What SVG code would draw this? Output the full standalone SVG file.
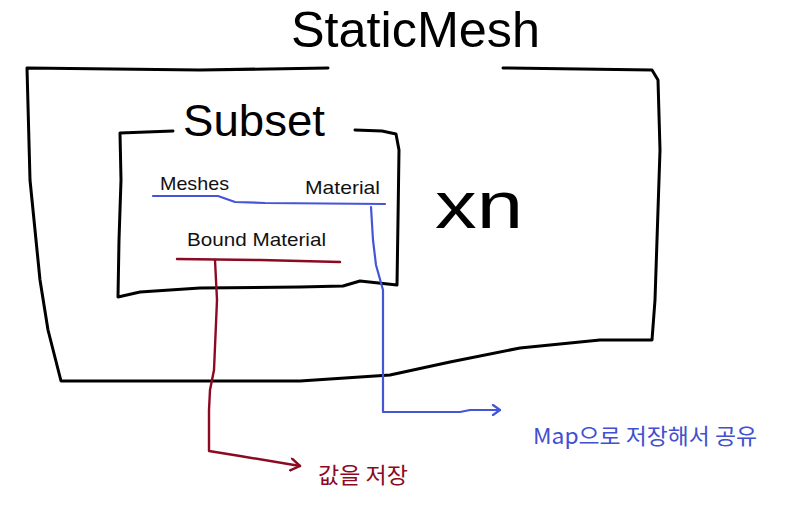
<svg xmlns="http://www.w3.org/2000/svg" width="807" height="511" viewBox="0 0 807 511">
<style>
.ink{fill:none;stroke:#000;stroke-width:3;stroke-linecap:round;stroke-linejoin:round}
.blue{fill:none;stroke:#4455D8;stroke-width:2.2;stroke-linecap:round;stroke-linejoin:round}
.red{fill:none;stroke:#8B0A22;stroke-width:2.4;stroke-linecap:round;stroke-linejoin:round}
.lbl{font-family:"Liberation Sans",Arial,sans-serif;font-size:19px;fill:#111}
.hand{font-family:"Liberation Sans",Arial,sans-serif;fill:#000}
.kr{font-family:"Noto Sans CJK KR","Noto Sans",sans-serif}
</style>
<defs>
<marker id="ab" viewBox="0 0 12 12" refX="10" refY="6" markerWidth="12" markerHeight="12" markerUnits="userSpaceOnUse" orient="auto">
<path d="M3,1 L10,6 L3,11" fill="none" stroke="#4455D8" stroke-width="2.2" stroke-linecap="round" stroke-linejoin="round"/>
</marker>
<marker id="ar" viewBox="0 0 14 14" refX="12" refY="7" markerWidth="14" markerHeight="14" markerUnits="userSpaceOnUse" orient="auto">
<path d="M3,1 L12,7 L3,13" fill="none" stroke="#8B0A22" stroke-width="2.4" stroke-linecap="round" stroke-linejoin="round"/>
</marker>
</defs>
<rect width="807" height="511" fill="#fff"/>
<g id="static-mesh">
<text class="hand" x="291" y="47" font-size="50" textLength="249" lengthAdjust="spacingAndGlyphs">StaticMesh</text>
<path class="ink" d="M328,68 L200,70 L27,68 L30,180 L40,280 L48,330 L61,381 L300,381 L390,375 L450,362 L520,348 L600,340 L652,340 L655,300 L660,150 L658,80 L652,70 L503,68"/>
<text class="hand" x="435" y="228" font-size="66" textLength="88" lengthAdjust="spacingAndGlyphs">xn</text>
</g>
<g id="subset">
<path class="ink" d="M173,131 L120,133 L121,180 L119,240 L118,297 L140,292 L200,288 L300,287 L343,286 L360,281 L397,285 L398,220 L399,150 L396,134 L382,131 L355,130"/>
<text class="hand" x="183" y="136" font-size="44" textLength="142" lengthAdjust="spacingAndGlyphs">Subset</text>
<text class="lbl" x="160" y="190" textLength="69" lengthAdjust="spacingAndGlyphs">Meshes</text>
<text class="lbl" x="305" y="194" textLength="75" lengthAdjust="spacingAndGlyphs">Material</text>
<text class="lbl" x="187" y="246" textLength="139" lengthAdjust="spacingAndGlyphs">Bound Material</text>
</g>
<g id="connectors">
<path class="blue" d="M153,196 L218,196 L235,202 L265,203 L385,204"/>
<path class="blue" marker-end="url(#ab)" d="M371,207 L373,240 L376,265 L383,290 L383,412 L460,412 L470,410 L500,410"/>
<path class="red" d="M177,259 L260,260 L340,262"/>
<path class="red" marker-end="url(#ar)" d="M215,260 L217,300 L214,370 L210,390 L209,410 L209,451 L240,456 L300,466"/>
</g>
<text class="kr" x="533" y="444" font-size="22" fill="#4050D0" textLength="224" lengthAdjust="spacingAndGlyphs">Map으로 저장해서 공유</text>
<text class="kr" x="318" y="483" font-size="22" fill="#8B0A22" textLength="90" lengthAdjust="spacingAndGlyphs">값을 저장</text>
</svg>
